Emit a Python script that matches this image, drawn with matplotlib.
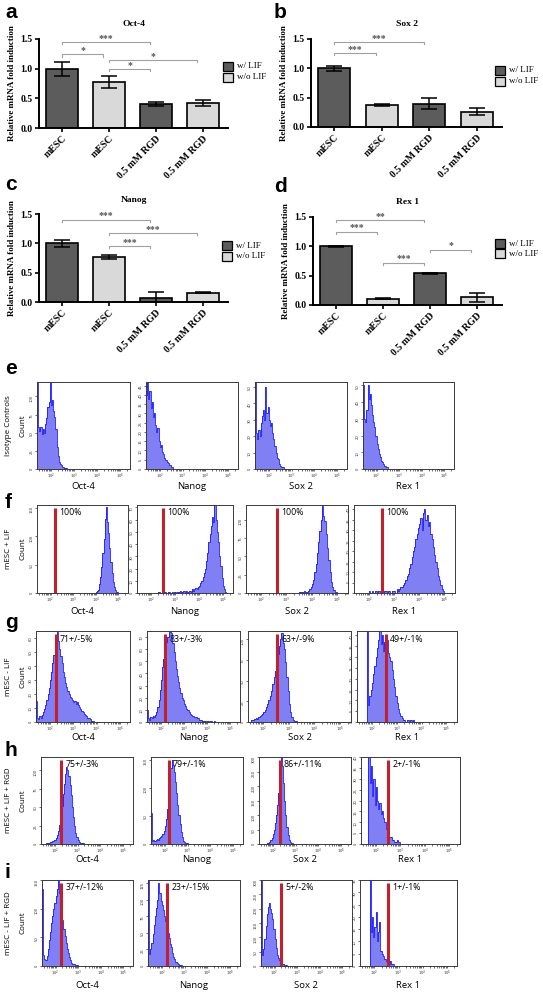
import numpy as np
import matplotlib.pyplot as plt
from matplotlib.patches import Rectangle
from matplotlib.ticker import MultipleLocator

W, H = 543, 992

# ---------------- qPCR data (panels a-d) ----------------
groups = ['mESC', 'mESC', '0.5 mM RGD', '0.5 mM RGD']
lif_state = ['w/ LIF', 'w/o LIF', 'w/ LIF', 'w/o LIF']
genes = ['Oct-4', 'Sox 2', 'Nanog', 'Rex 1']

oct4_mean = [1.00, 0.77, 0.40, 0.42]
oct4_err = [0.12, 0.10, 0.03, 0.045]
sox2_mean = [1.00, 0.37, 0.40, 0.26]
sox2_err = [0.04, 0.02, 0.09, 0.06]
nanog_mean = [1.00, 0.77, 0.07, 0.16]
nanog_err = [0.06, 0.03, 0.10, 0.01]
rex1_mean = [1.00, 0.11, 0.54, 0.13]
rex1_err = [0.01, 0.01, 0.01, 0.08]

# comparisons: (bar i, bar j, bracket height, stars)
oct4_sig = [(0, 2, 1.45, '***'), (0, 1, 1.24, '*'), (1, 3, 1.14, '*'), (1, 2, 0.99, '*')]
sox2_sig = [(0, 2, 1.45, '***'), (0, 1, 1.26, '***')]
nanog_sig = [(0, 2, 1.40, '***'), (1, 3, 1.17, '***'), (1, 2, 0.95, '***')]
rex1_sig = [(0, 2, 1.45, '**'), (0, 1, 1.25, '***'), (1, 2, 0.72, '***'), (2, 3, 0.94, '*')]

# ---------------- flow cytometry data (panels e-i) ----------------
markers = ['Oct-4', 'Nanog', 'Sox 2', 'Rex 1']
row_names = ['Isotype Controls', 'mESC + LIF', 'mESC - LIF', 'mESC + LIF + RGD', 'mESC - LIF + RGD']
BIN = 0.05  # bin width in log10 units

iso_start = [1.40, 1.40, 1.40, 1.40]
iso_counts = [
    [120, 58, 52, 58, 48, 55, 50, 62, 70, 85, 92, 120, 88, 95, 80, 72, 55, 30, 18, 10, 7, 5, 3, 2, 1, 1],
    [40, 47, 38, 42, 33, 36, 28, 30, 24, 20, 22, 15, 12, 13, 9, 8, 6, 5, 4, 3, 2, 2, 1, 1],
    [53, 22, 18, 24, 20, 28, 32, 36, 30, 50, 34, 38, 30, 26, 28, 22, 18, 14, 10, 7, 6, 3, 2, 1, 1],
    [50, 30, 28, 35, 50, 42, 45, 38, 32, 28, 25, 20, 15, 12, 9, 7, 5, 4, 3, 2, 1, 1],
]
iso_ymax = [120, 47, 53, 52]
iso_ystep = [25, 5, 10, 10]

lifpos_start = [4.00, 2.30, 3.50, 2.00]
lifpos_counts = [
    [1, 3, 6, 15, 28, 45, 70, 95, 130, 152, 125, 105, 80, 55, 35, 20, 10, 5, 2, 1],
    [1, 0, 0, 1, 0, 1, 0, 0, 1, 1, 0, 1, 0, 1, 1, 0, 1, 1, 2, 1, 1, 2, 1, 2, 1,
     1, 2, 1, 3, 2, 3, 4, 3, 5, 6, 8, 10, 13, 16, 20, 26, 33, 42, 48, 55,
     62, 58, 72, 60, 50, 42, 30, 22, 12, 6, 3, 1],
    [1, 1, 2, 2, 3, 1, 2, 3, 5, 8, 12, 18, 28, 40, 55, 70, 85, 100, 118, 105,
     98, 80, 62, 45, 28, 15, 8, 4, 2, 1],
    [1, 0, 1, 0, 0, 1, 0, 1, 1, 0, 1, 0, 1, 1, 0, 1, 1, 0, 1, 1,
     1, 0, 2, 1, 2, 3, 3, 4, 5, 6, 8, 9, 12, 14, 17, 20, 22, 26, 28, 31,
     33, 36, 30, 38, 40, 35, 37, 32, 34, 28, 26, 22, 18, 15, 12, 8, 6, 4, 2, 1],
]
lifpos_ymax = [155, 72, 120, 42]
lifpos_ystep = [50, 10, 25, 5]
lifpos_gate = [2.20, 2.49, 2.62, 2.53]
lifpos_pct = ['100%', '100%', '100%', '100%']

lifneg_start = [1.40, 1.40, 1.50, 1.80]
lifneg_counts = [
    [15, 3, 2, 4, 3, 5, 7, 9, 12, 16, 20, 24, 30, 36, 42, 48, 54, 60, 64, 58,
     52, 47, 42, 36, 32, 28, 25, 22, 20, 18, 17, 16, 14, 15, 13, 14, 12, 11, 9, 8,
     7, 6, 5, 4, 3, 3, 2, 1, 1, 1],
    [10, 3, 2, 4, 3, 5, 4, 6, 8, 12, 18, 26, 35, 45, 52, 60, 66, 70, 70, 74,
     76, 73, 65, 58, 50, 44, 38, 33, 28, 24, 20, 18, 15, 13, 11, 10, 8, 7, 6, 5,
     5, 4, 4, 3, 3, 2, 2, 2, 1, 1, 1, 0, 1, 1, 0, 1, 0, 0, 1, 0],
    [2, 3, 2, 4, 5, 4, 6, 7, 8, 10, 12, 14, 18, 22, 26, 32, 38, 46, 54, 62,
     72, 82, 92, 100, 108, 96, 88, 72, 55, 38, 22, 12, 6, 3, 1, 1],
    [42, 8, 12, 15, 18, 22, 26, 30, 34, 38, 44, 36, 40, 33, 37, 35, 38, 32, 30, 28,
     24, 20, 16, 12, 9, 6, 4, 3, 2, 1, 1, 0, 1, 1, 0, 1, 0, 1],
]
lifneg_ymax = [65, 75, 110, 42]
lifneg_ystep = [10, 10, 25, 5]
lifneg_gate = [2.24, 2.19, 2.54, 2.57]
lifneg_pct = ['71+/-5%', '83+/-3%', '63+/-9%', '49+/-1%']

rgdpos_start = [1.60, 1.40, 1.75, 1.70]
rgdpos_counts = [
    [1, 2, 1, 2, 3, 3, 4, 5, 6, 8, 12, 18, 26, 38, 52, 68, 82, 95, 105, 100,
     92, 80, 66, 50, 36, 24, 15, 9, 5, 3, 2, 1, 1, 1],
    [55, 6, 8, 5, 7, 9, 8, 10, 12, 15, 18, 24, 32, 45, 62, 85, 110, 135, 150, 140,
     128, 110, 90, 70, 52, 36, 22, 12, 6, 3, 2, 1],
    [2, 4, 8, 14, 22, 35, 50, 72, 100, 135, 175, 230, 300, 270, 210, 150, 100, 60, 32, 15,
     7, 3, 2, 1, 1],
    [40, 28, 36, 22, 30, 18, 26, 20, 16, 19, 14, 15, 12, 10, 7, 5, 4, 3, 3, 2,
     2, 1, 1, 2, 1, 1],
]
rgdpos_ymax = [118, 155, 300, 40]
rgdpos_ystep = [25, 50, 50, 5]
rgdpos_gate = [2.28, 2.17, 2.31, 2.51]
rgdpos_pct = ['75+/-3%', '79+/-1%', '86+/-11%', '2+/-1%']

rgdneg_start = [1.40, 1.40, 1.40, 1.80]
rgdneg_counts = [
    [135, 20, 12, 10, 18, 30, 45, 60, 75, 88, 100, 110, 122, 135, 150, 128, 110, 95, 80, 65,
     52, 40, 30, 22, 15, 10, 6, 4, 3, 2, 1, 1],
    [130, 18, 25, 35, 48, 62, 75, 88, 100, 125, 110, 98, 92, 85, 76, 68, 58, 50, 42, 34,
     28, 20, 14, 10, 6, 4, 3, 2, 1, 1],
    [300, 40, 60, 95, 140, 180, 205, 220, 200, 185, 165, 130, 95, 62, 40, 28, 20, 16, 12, 8,
     5, 3, 2, 1, 1],
    [35, 14, 20, 12, 16, 22, 10, 14, 18, 6, 5, 4, 3, 3, 2, 2, 1, 2, 1, 1],
]
rgdneg_ymax = [150, 130, 300, 35]
rgdneg_ystep = [50, 25, 50, 5]
rgdneg_gate = [2.25, 2.24, 2.30, 2.55]
rgdneg_pct = ['37+/-12%', '23+/-15%', '5+/-2%', '1+/-1%']


def px_rect(x0, y0, x1, y1):
    return [x0 / W, 1 - y1 / H, (x1 - x0) / W, (y1 - y0) / H]


SERIF = 'Liberation Serif'
SANS = 'Open Sans'
DARK, LIGHT = '#5c5c5c', '#d9d9d9'

fig = plt.figure(figsize=(W / 100, H / 100), dpi=100)

# ---------------- bar charts ----------------
bar_panels = [
    ('a', 'Oct-4', oct4_mean, oct4_err, oct4_sig, (39, 39, 228, 128), (5, 12), (223, 62)),
    ('b', 'Sox 2', sox2_mean, sox2_err, sox2_sig, (311, 39, 502, 127), (274, 12), (495, 66)),
    ('c', 'Nanog', nanog_mean, nanog_err, nanog_sig, (39, 214, 228, 302), (5, 185), (222, 241)),
    ('d', 'Rex 1', rex1_mean, rex1_err, rex1_sig, (313, 217, 502, 305), (274, 187), (495, 239)),
]
x = np.arange(len(groups))
colors = [DARK if s == 'w/ LIF' else LIGHT for s in lif_state]

for letter, gene, mean, err, sig, box, lpos, legpos in bar_panels:
    ax = fig.add_axes(px_rect(*box))
    ax.bar(x, mean, width=0.68, color=colors, edgecolor='black', linewidth=1.2, zorder=2)
    ax.errorbar(x, mean, yerr=err, fmt='none', ecolor='black', elinewidth=1.1,
                capsize=5.5, capthick=1.1, zorder=3)
    for i, j, yb, stars in sig:
        x1, x2 = i, j - 0.12
        ax.plot([x1, x1, x2, x2], [yb - 0.035, yb, yb, yb - 0.035], color='#a0a0a0',
                lw=0.8, clip_on=False, zorder=1)
        ax.text((x1 + x2) / 2, yb - 0.01, stars, ha='center', va='bottom', fontsize=7,
                color='#555555', family=SERIF, fontweight='bold', clip_on=False)
    ax.set_xlim(-0.49, 3.53)
    ax.set_ylim(0, 1.5)
    ax.set_yticks([0, 0.5, 1.0, 1.5])
    ax.set_yticklabels(['0.0', '0.5', '1.0', '1.5'])
    ax.set_xticks(x)
    ax.set_xticklabels(groups, rotation=45, ha='right', va='top', rotation_mode='anchor')
    for lab in ax.get_xticklabels() + ax.get_yticklabels():
        lab.set_family(SERIF)
        lab.set_fontweight('bold')
        lab.set_fontsize(7)
    ax.tick_params(width=1.2, length=3, pad=1.5)
    for s in ['top', 'right']:
        ax.spines[s].set_visible(False)
    for s in ['left', 'bottom']:
        ax.spines[s].set_linewidth(1.4)
    ax.set_title(gene, family=SERIF, fontweight='bold', fontsize=6.8, pad=9)
    ax.set_ylabel('Relative mRNA fold induction', family=SERIF, fontweight='bold',
                  fontsize=6.5, labelpad=3)
    ax.patch.set_visible(False)
    fig.text(lpos[0] / W, 1 - lpos[1] / H, letter, fontsize=15, fontweight='bold',
             family='Liberation Sans', va='center', ha='left')
    # legend
    lx, ly = legpos
    for k, (lab, col) in enumerate([('w/ LIF', DARK), ('w/o LIF', LIGHT)]):
        y0 = ly + k * 10.5
        fig.patches.append(Rectangle((lx / W, 1 - (y0 + 9) / H), 10 / W, 9 / H,
                                     transform=fig.transFigure, facecolor=col,
                                     edgecolor='black', lw=0.9))
        fig.text((lx + 14) / W, 1 - (y0 + 4.5) / H, lab, family=SERIF, fontsize=6.5,
                 va='center', ha='left')

# ---------------- histograms ----------------
row_start = [iso_start, lifpos_start, lifneg_start, rgdpos_start, rgdneg_start]
row_counts = [iso_counts, lifpos_counts, lifneg_counts, rgdpos_counts, rgdneg_counts]
row_ymax = [iso_ymax, lifpos_ymax, lifneg_ymax, rgdpos_ymax, rgdneg_ymax]
row_ystep = [iso_ystep, lifpos_ystep, lifneg_ystep, rgdpos_ystep, rgdneg_ystep]
row_gate = [None, lifpos_gate, lifneg_gate, rgdpos_gate, rgdneg_gate]
row_pct = [None, lifpos_pct, lifneg_pct, rgdpos_pct, rgdneg_pct]

box_y = [(382, 469), (505, 593), (631, 722), (757, 844), (880, 966)]
box_x = [
    [(37, 130), (146, 238), (255, 347), (363, 454)],
    [(37, 128), (137, 233), (246, 348), (354, 455)],
    [(36, 130), (147, 240), (248, 351), (357, 457)],
    [(41, 133), (151, 243), (259, 351), (361, 460)],
    [(42, 133), (148, 240), (261, 352), (360, 457)],
]
xlabel_y = [486, 612, 738, 860, 986]
letter_y = [369, 502, 623, 750, 872]
letters = ['e', 'f', 'g', 'h', 'i']

for r in range(5):
    y0, y1 = box_y[r]
    for c in range(4):
        x0, x1 = box_x[r][c]
        ax = fig.add_axes(px_rect(x0, y0, x1, y1))
        counts = np.array(row_counts[r][c], dtype=float)
        edges = 10 ** (row_start[r][c] + BIN * np.arange(len(counts) + 1))
        ax.stairs(counts, edges, fill=True, color='#8080f4', lw=0)
        ax.stairs(counts, edges, color='#1a1aff', lw=0.6)
        ax.set_xscale('log')
        ax.set_xlim(10 ** 1.4, 10 ** 5.43)
        ymax = row_ymax[r][c]
        ax.set_ylim(0, ymax)
        ax.yaxis.set_major_locator(MultipleLocator(row_ystep[r][c]))
        ax.tick_params(axis='both', labelsize=2.7, length=1.6, width=0.5, pad=0.6,
                       colors='#333333')
        ax.tick_params(axis='x', which='minor', length=1.1, width=0.4)
        ax.tick_params(axis='y', labelrotation=90)
        for s in ax.spines.values():
            s.set_linewidth(0.7)
            s.set_color('#3a3a3a')
        if row_gate[r] is not None:
            g = 10 ** row_gate[r][c]
            ax.plot([g, g], [0, 0.97 * ymax], color='#c4202b', lw=2.2, solid_capstyle='butt')
            ax.annotate(row_pct[r][c], xy=(g, 0.91), xycoords=('data', 'axes fraction'),
                        xytext=(3, 0), textcoords='offset points', family=SANS,
                        fontsize=6.3, va='center', ha='left')
        fig.text((x0 + x1) / 2 / W, 1 - xlabel_y[r] / H, markers[c], family=SANS,
                 fontsize=6.8, ha='center', va='center')
    yc = (y0 + y1) / 2
    fig.text(9 / W, 1 - yc / H, row_names[r], rotation=90, family=SANS, fontsize=5.8,
             ha='center', va='center')
    fig.text(23 / W, 1 - yc / H, 'Count', rotation=90, family=SANS, fontsize=5.8,
             ha='center', va='center')
    fig.text(5 / W, 1 - letter_y[r] / H, letters[r], fontsize=15, fontweight='bold',
             family='Liberation Sans', va='center', ha='left')

fig.savefig('out.png', dpi=100)
